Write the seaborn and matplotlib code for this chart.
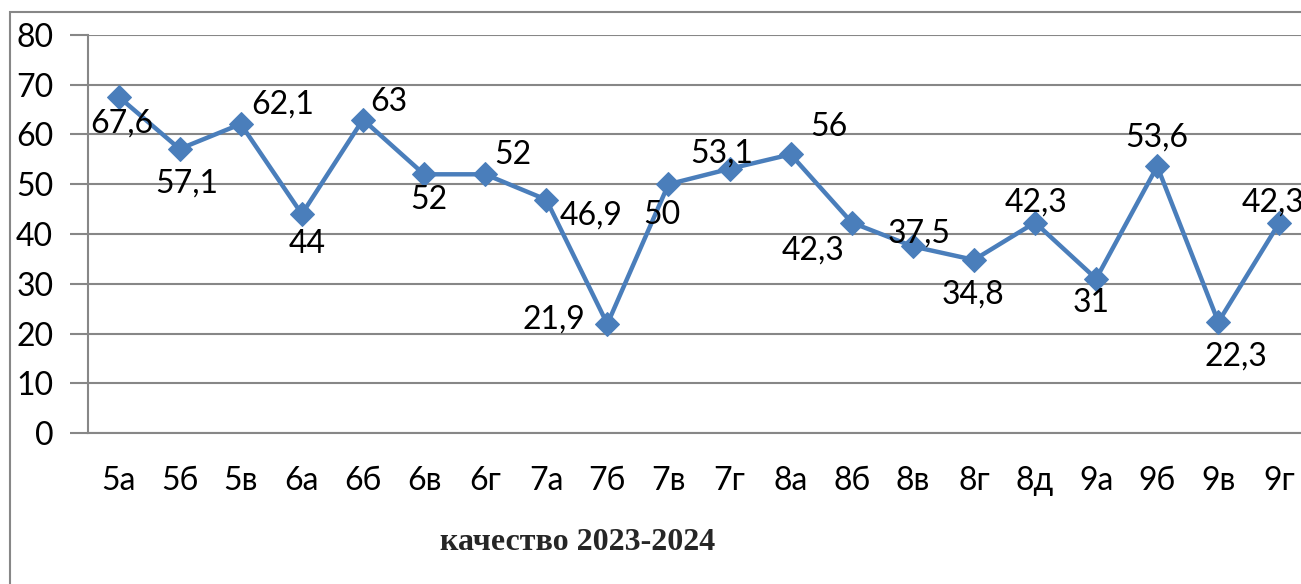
import matplotlib
matplotlib.use("Agg")
import matplotlib.pyplot as plt
import seaborn as sns
import pandas as pd
from matplotlib.patches import Rectangle

# chart data
classes = ['5а', '5б', '5в', '6а', '6б', '6в', '6г', '7а', '7б', '7в',
           '7г', '8а', '8б', '8в', '8г', '8д', '9а', '9б', '9в', '9г']
quality = [67.6, 57.1, 62.1, 44, 63, 52, 52, 46.9, 21.9, 50,
           53.1, 56, 42.3, 37.5, 34.8, 42.3, 31, 53.6, 22.3, 42.3]
value_labels = ['67,6', '57,1', '62,1', '44', '63', '52', '52', '46,9', '21,9', '50',
                '53,1', '56', '42,3', '37,5', '34,8', '42,3', '31', '53,6', '22,3', '42,3']
y_ticks = [0, 10, 20, 30, 40, 50, 60, 70, 80]
title = 'качество 2023-2024'

# label placement (pixel offsets from the marker, as in the source sheet)
label_offsets = [(3, -27), (7, -35), (42, 20), (5, -30), (26, 18), (5, -26), (28, 19),
                 (45, -16), (-53, 5), (-7, -31), (-8, 15), (38, 27), (-39, -28),
                 (6, 13), (-1, -35), (1, 20), (-5, -24), (0, 29), (18, -34), (-6, 20)]

LINE = '#4A7EBB'
GRID = '#878787'

sns.set_theme(style="white")
plt.rcParams['font.family'] = ['Lato', 'DejaVu Sans']

fig = plt.figure(figsize=(13.01, 5.84), dpi=100)
fig.patch.set_facecolor('white')

# outer chart frame (cut off on the right and bottom)
fig.patches.append(Rectangle((10 / 1301, -0.2), 2, (584 - 12) / 584 + 0.2,
                             transform=fig.transFigure, fill=False,
                             edgecolor=GRID, linewidth=1.5))

ax = fig.add_axes([88 / 1301, 1 - 433 / 584, 1222 / 1301, (433 - 35) / 584])
ax.set_facecolor('white')

df = pd.DataFrame({'class': classes, 'quality': quality})
sns.lineplot(data=df, x='class', y='quality', ax=ax, color=LINE, linewidth=3.2,
             marker='D', markersize=12.5, markeredgecolor=LINE, sort=False)

for i, (v, lab, off) in enumerate(zip(quality, value_labels, label_offsets)):
    ax.annotate(lab, (i, v), xytext=off, textcoords='offset pixels',
                ha='center', va='center', fontsize=23, color='black',
                annotation_clip=False)

ax.set_xlim(-0.5, len(classes) - 0.5)
ax.set_ylim(0, 80)
ax.set_yticks(y_ticks)
ax.set_yticklabels([str(t) for t in y_ticks])
ax.yaxis.grid(True, color=GRID, linewidth=1.5)
ax.xaxis.grid(False)

ax.set_xticks(range(len(classes)))
ax.set_xticklabels(classes)
ax.set_xticks([i - 0.5 for i in range(len(classes) + 1)], minor=True)
ax.tick_params(axis='x', which='major', length=0, pad=24, labelsize=23, colors='black')
ax.tick_params(axis='x', which='minor', length=10, width=1.5, color=GRID, direction='out')
ax.tick_params(axis='y', length=13, width=1.5, color=GRID, direction='out', pad=12,
               labelsize=23, labelcolor='black', left=True)

for side in ['top', 'right']:
    ax.spines[side].set_visible(False)
for side in ['left', 'bottom']:
    ax.spines[side].set_color(GRID)
    ax.spines[side].set_linewidth(1.5)

ax.set_xlabel('')
ax.set_ylabel('')

fig.text(578 / 1301, 1 - 543 / 584, title, ha='center', va='center',
         fontsize=23, fontweight='bold', family=['Liberation Serif', 'DejaVu Serif'])

fig.savefig('out.png', dpi=100)
